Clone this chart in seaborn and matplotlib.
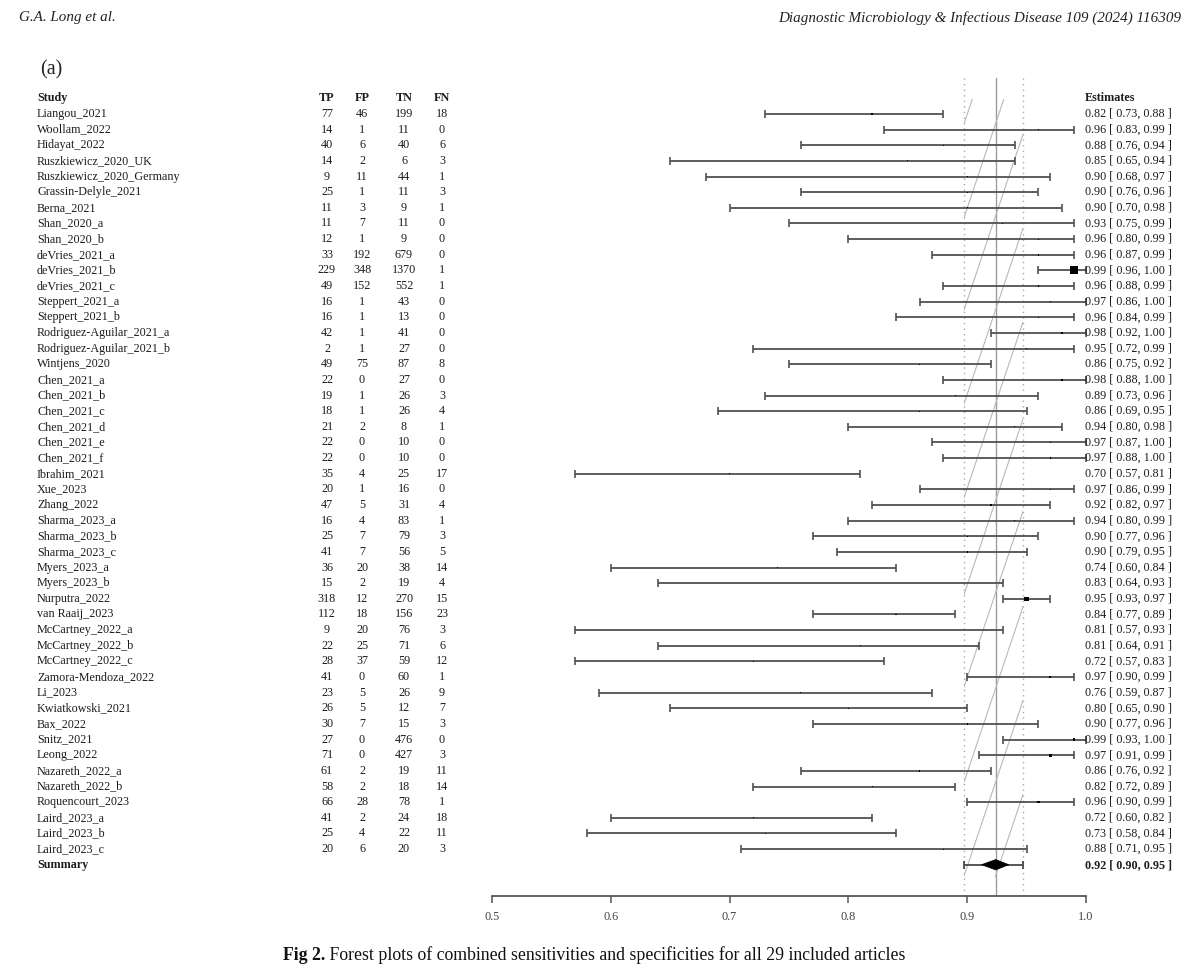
"""
Forest plot of sensitivities (48 study arms + pooled summary)
"""
import matplotlib
matplotlib.use("Agg")
import matplotlib.pyplot as plt
import matplotlib.transforms as mtransforms
from matplotlib.patches import Polygon, Rectangle
import pandas as pd
import seaborn as sns

OUT_PATH = "out.png"
W_PX, H_PX = 1200, 972

STUDIES = [
    "Liangou_2021", "Woollam_2022", "Hidayat_2022", "Ruszkiewicz_2020_UK",
    "Ruszkiewicz_2020_Germany", "Grassin-Delyle_2021", "Berna_2021", "Shan_2020_a",
    "Shan_2020_b", "deVries_2021_a", "deVries_2021_b", "deVries_2021_c",
    "Steppert_2021_a", "Steppert_2021_b", "Rodriguez-Aguilar_2021_a",
    "Rodriguez-Aguilar_2021_b", "Wintjens_2020", "Chen_2021_a", "Chen_2021_b",
    "Chen_2021_c", "Chen_2021_d", "Chen_2021_e", "Chen_2021_f", "Ibrahim_2021",
    "Xue_2023", "Zhang_2022", "Sharma_2023_a", "Sharma_2023_b", "Sharma_2023_c",
    "Myers_2023_a", "Myers_2023_b", "Nurputra_2022", "van Raaij_2023",
    "McCartney_2022_a", "McCartney_2022_b", "McCartney_2022_c",
    "Zamora-Mendoza_2022", "Li_2023", "Kwiatkowski_2021", "Bax_2022",
    "Snitz_2021", "Leong_2022", "Nazareth_2022_a", "Nazareth_2022_b",
    "Roquencourt_2023", "Laird_2023_a", "Laird_2023_b", "Laird_2023_c",
]
TP = [77, 14, 40, 14, 9, 25, 11, 11, 12, 33, 229, 49, 16, 16, 42, 2, 49, 22, 19,
      18, 21, 22, 22, 35, 20, 47, 16, 25, 41, 36, 15, 318, 112, 9, 22, 28, 41, 23,
      26, 30, 27, 71, 61, 58, 66, 41, 25, 20]
FP = [46, 1, 6, 2, 11, 1, 3, 7, 1, 192, 348, 152, 1, 1, 1, 1, 75, 0, 1, 1, 2, 0,
      0, 4, 1, 5, 4, 7, 7, 20, 2, 12, 18, 20, 25, 37, 0, 5, 5, 7, 0, 0, 2, 2, 28,
      2, 4, 6]
TN = [199, 11, 40, 6, 44, 11, 9, 11, 9, 679, 1370, 552, 43, 13, 41, 27, 87, 27,
      26, 26, 8, 10, 10, 25, 16, 31, 83, 79, 56, 38, 19, 270, 156, 76, 71, 59, 60,
      26, 12, 15, 476, 427, 19, 18, 78, 24, 22, 20]
FN = [18, 0, 6, 3, 1, 3, 1, 0, 0, 0, 1, 1, 0, 0, 0, 0, 8, 0, 3, 4, 1, 0, 0, 17,
      0, 4, 1, 3, 5, 14, 4, 15, 23, 3, 6, 12, 1, 9, 7, 3, 0, 3, 11, 14, 1, 18, 11, 3]
EST = [0.82, 0.96, 0.88, 0.85, 0.90, 0.90, 0.90, 0.93, 0.96, 0.96, 0.99, 0.96,
       0.97, 0.96, 0.98, 0.95, 0.86, 0.98, 0.89, 0.86, 0.94, 0.97, 0.97, 0.70,
       0.97, 0.92, 0.94, 0.90, 0.90, 0.74, 0.83, 0.95, 0.84, 0.81, 0.81, 0.72,
       0.97, 0.76, 0.80, 0.90, 0.99, 0.97, 0.86, 0.82, 0.96, 0.72, 0.73, 0.88]
LO = [0.73, 0.83, 0.76, 0.65, 0.68, 0.76, 0.70, 0.75, 0.80, 0.87, 0.96, 0.88,
      0.86, 0.84, 0.92, 0.72, 0.75, 0.88, 0.73, 0.69, 0.80, 0.87, 0.88, 0.57,
      0.86, 0.82, 0.80, 0.77, 0.79, 0.60, 0.64, 0.93, 0.77, 0.57, 0.64, 0.57,
      0.90, 0.59, 0.65, 0.77, 0.93, 0.91, 0.76, 0.72, 0.90, 0.60, 0.58, 0.71]
HI = [0.88, 0.99, 0.94, 0.94, 0.97, 0.96, 0.98, 0.99, 0.99, 0.99, 1.00, 0.99,
      1.00, 0.99, 1.00, 0.99, 0.92, 1.00, 0.96, 0.95, 0.98, 1.00, 1.00, 0.81,
      0.99, 0.97, 0.99, 0.96, 0.95, 0.84, 0.93, 0.97, 0.89, 0.93, 0.91, 0.83,
      0.99, 0.87, 0.90, 0.96, 1.00, 0.99, 0.92, 0.89, 0.99, 0.82, 0.84, 0.95]

SUMMARY_EST, SUMMARY_LO, SUMMARY_HI = 0.924, 0.897, 0.947
SUMMARY_DIAMOND = (0.912, 0.935)

# faint slanted band lines seen behind the summary band
DIAG_LEFT_ROWS = [0.7, 6.7, 12.6, 18.6, 24.6, 30.8, 36.7, 42.8, 48.8, 54.8]
DIAG_RISE = 11.3
DIAG_TOP, DIAG_BOTTOM = -0.96, 48.8

XTICKS = [0.5, 0.6, 0.7, 0.8, 0.9, 1.0]

sns.set_theme(style="white")
plt.rcParams["font.family"] = ["Liberation Serif", "DejaVu Serif"]
TXT = "#1c1c1c"
FS = 8.7


def fx(px):
    return px / W_PX


def fy(py):
    return 1 - py / H_PX


def build_table():
    df = pd.DataFrame({"study": STUDIES, "TP": TP, "FP": FP, "TN": TN, "FN": FN,
                       "est": EST, "lo": LO, "hi": HI})
    df["row"] = range(len(df))
    n_pos = df["TP"] + df["FN"]
    df["weight"] = n_pos / (df["est"] * (1 - df["est"]))
    return df


def plot(df):
    fig = plt.figure(figsize=(W_PX / 100, H_PX / 100), dpi=100)
    ax = fig.add_axes([fx(492), fy(896), fx(1086) - fx(492), fy(78) - fy(896)])
    ax.set_xlim(0.5, 1.0)
    ax.set_ylim(50.0, -2.3)
    ax.set_facecolor("none")

    # --- reference lines ---
    ax.axvline(SUMMARY_EST, color="#9c9c9c", lw=1.0, zorder=1)
    for x in (SUMMARY_LO, SUMMARY_HI):
        ax.axvline(x, color="#a8a8a8", lw=1.0, ls=(0, (1, 3)), zorder=1)
    clip = Rectangle((SUMMARY_LO, DIAG_TOP), SUMMARY_HI - SUMMARY_LO,
                     DIAG_BOTTOM - DIAG_TOP, transform=ax.transData)
    for r in DIAG_LEFT_ROWS:
        ln, = ax.plot([SUMMARY_LO, SUMMARY_HI], [r, r - DIAG_RISE],
                      color="#b8b8b8", lw=0.8, zorder=1)
        ln.set_clip_path(clip)

    # --- study CIs and point estimates ---
    eb = ax.errorbar(df["est"], df["row"], xerr=[df["est"] - df["lo"], df["hi"] - df["est"]],
                     fmt="none", ecolor="#505050", elinewidth=1.3, capsize=2.6,
                     capthick=1.2, zorder=2)
    for art in list(eb.lines[1]) + list(eb.lines[2]):
        art.set_clip_on(False)
    sns.scatterplot(data=df, x="est", y="row", size="weight", sizes=(0.2, 32),
                    marker="s", color="black", linewidth=0, legend=False,
                    ax=ax, zorder=3, clip_on=False)

    # --- summary ---
    srow = len(df)
    ax.errorbar([SUMMARY_EST], [srow],
                xerr=[[SUMMARY_EST - SUMMARY_LO], [SUMMARY_HI - SUMMARY_EST]],
                fmt="none", ecolor="#3a3a3a", elinewidth=1.2, capsize=2.6,
                capthick=1.2, zorder=2)
    d_lo, d_hi = SUMMARY_DIAMOND
    ax.add_patch(Polygon([(d_lo, srow), (SUMMARY_EST, srow - 0.33),
                          (d_hi, srow), (SUMMARY_EST, srow + 0.33)],
                         closed=True, facecolor="black", edgecolor="black",
                         lw=0.5, zorder=4))

    # --- axis ---
    sns.despine(ax=ax, left=True)
    ax.spines["bottom"].set_color("#555555")
    ax.spines["bottom"].set_linewidth(1.3)
    ax.set_yticks([])
    ax.set_xticks(XTICKS)
    ax.set_xticklabels([f"{t:.1f}" for t in XTICKS])
    ax.tick_params(axis="x", direction="out", length=5, width=1.1, color="#555555",
                   labelsize=8.8, labelcolor="#444444", pad=6, bottom=True)
    ax.set_xlabel("")
    ax.set_ylabel("")

    # --- table text ---
    tr = mtransforms.blended_transform_factory(fig.transFigure, ax.transData)
    cols = [("TP", 327), ("FP", 362), ("TN", 404), ("FN", 442)]
    ax.text(fx(37), -1, "Study", transform=tr, fontsize=FS, fontweight="bold",
            color=TXT, va="center", ha="left")
    for name, px in cols:
        ax.text(fx(px), -1, name, transform=tr, fontsize=FS, fontweight="bold",
                color=TXT, va="center", ha="center")
    ax.text(fx(1085), -1, "Estimates", transform=tr, fontsize=FS, fontweight="bold",
            color=TXT, va="center", ha="left")
    for _, r in df.iterrows():
        y = r["row"]
        ax.text(fx(37), y, r["study"], transform=tr, fontsize=FS, color=TXT,
                va="center", ha="left")
        for name, px in cols:
            ax.text(fx(px), y, str(r[name]), transform=tr, fontsize=FS, color=TXT,
                    va="center", ha="center")
        ax.text(fx(1085), y, f"{r['est']:.2f} [ {r['lo']:.2f}, {r['hi']:.2f} ]",
                transform=tr, fontsize=FS, color=TXT, va="center", ha="left")
    ax.text(fx(37), srow, "Summary", transform=tr, fontsize=FS, fontweight="bold",
            color=TXT, va="center", ha="left")
    ax.text(fx(1085), srow,
            f"{SUMMARY_EST:.2f} [ {SUMMARY_LO:.2f}, {SUMMARY_HI:.2f} ]",
            transform=tr, fontsize=FS, fontweight="bold", color=TXT,
            va="center", ha="left")

    # --- page furniture ---
    fig.text(fx(19), fy(18), "G.A. Long et al.", style="italic", fontsize=10.9,
             color="#222222", va="center", ha="left")
    fig.text(fx(1181), fy(18),
             "Diagnostic Microbiology & Infectious Disease 109 (2024) 116309",
             style="italic", fontsize=10.9, color="#222222", va="center", ha="right")
    fig.text(fx(40), fy(70), "(a)", fontsize=14.5, color="#222222", va="center", ha="left")
    t1 = fig.text(fx(283), fy(955), "Fig 2.", fontsize=12.8, fontweight="bold",
                  color="#111111", va="center", ha="left")
    ax.annotate(" Forest plots of combined sensitivities and specificities for all 29 included articles",
                xy=(1, 0), xycoords=t1, va="bottom", ha="left", fontsize=12.8,
                color="#111111", annotation_clip=False)

    fig.savefig(OUT_PATH, dpi=100)
    print(f"Saved: {OUT_PATH}")


if __name__ == "__main__":
    df = build_table()
    print(f"Rows: {len(df)}")
    plot(df)
